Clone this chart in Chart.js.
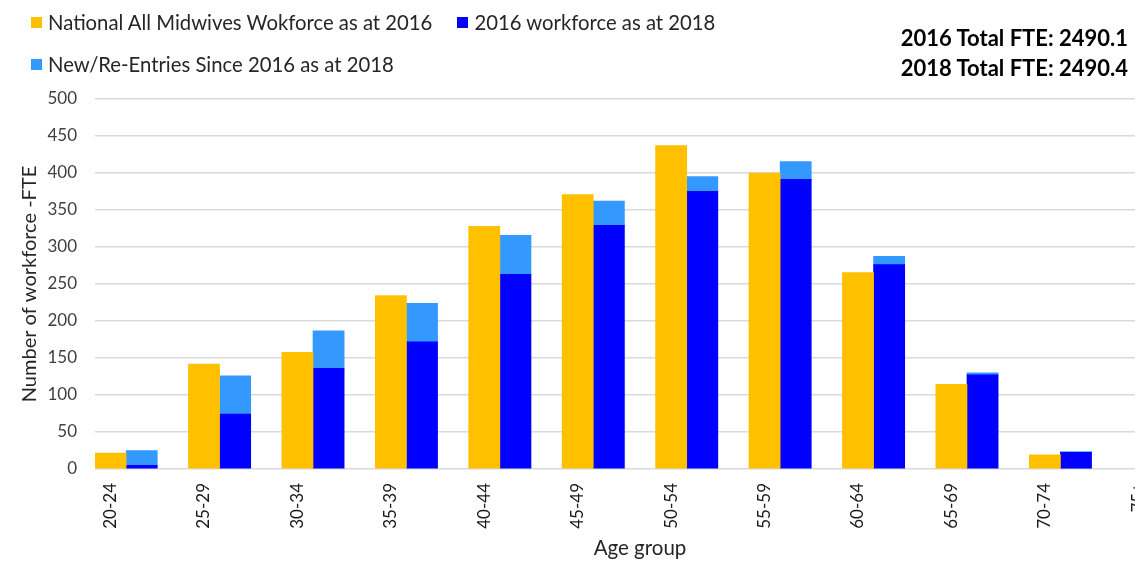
<!DOCTYPE html>
<html>
<head>
<meta charset="utf-8">
<title>Midwives workforce by age group</title>
<script src="https://cdn.jsdelivr.net/npm/chart.js@4.4.1/dist/chart.umd.min.js"></script>
<style>
  html, body { margin: 0; padding: 0; overflow: hidden; background: #fff; }
  #wrap { position: relative; width: 1200px; height: 563px; font-family: Lato, sans-serif; }
  canvas { position: absolute; left: 0; top: 0; }
  #legend { position: absolute; left: 31px; top: 10px; width: 790px; display: flex; flex-wrap: wrap; row-gap: 18px; font-size: 20.3px; color: #262626; }
  .item { display: flex; align-items: center; margin-right: 25px; line-height: 24px; white-space: nowrap; }
  .box { width: 11px; height: 11px; margin-right: 6px; }
  #totals { position: absolute; left: 0; top: 23px; width: 1128px; text-align: right; font-weight: bold; font-size: 22px; line-height: 30px; color: #000; }
</style>
</head>
<body>
<div id="wrap">
  <canvas id="chart" width="1200" height="563"></canvas>
  <div id="legend"></div>
  <div id="totals"></div>
</div>
<script>
const ageGroups = ["20-24", "25-29", "30-34", "35-39", "40-44", "45-49", "50-54", "55-59", "60-64", "65-69", "70-74", "75+"];

// FTE by age group
const fte2016 = [21.6, 141.9, 157.6, 234.2, 327.9, 371.0, 437.0, 400.0, 265.3, 114.3, 19.3, null];
const retained2018 = [4.9, 74.3, 136.0, 172.0, 263.0, 329.2, 375.2, 391.4, 276.1, 127.4, 22.5, null];
const newEntries2018 = [20.0, 51.5, 50.6, 52.0, 52.9, 32.7, 19.9, 24.0, 11.4, 2.4, 1.0, null];

const yAxisMax = 500;
const yAxisStep = 50;

const sum = (arr) => arr.reduce((a, b) => a + (b || 0), 0);
// linear x axis so the plot can start at the first bar
const toPoints = (arr) => arr.map((v, i) => ({ x: i, y: v }));

Chart.defaults.font.family = "Lato, sans-serif";

const datasets = [
  // empty slot in front of each pair of bars
  { label: "", data: [], stack: "pad" },
  {
    label: "National All Midwives Wokforce as at 2016",
    data: toPoints(fte2016),
    backgroundColor: "#FFC000",
    stack: "2016",
  },
  {
    label: "2016 workforce as at 2018",
    data: toPoints(retained2018),
    backgroundColor: "#0000FF",
    stack: "2018",
  },
  {
    label: "New/Re-Entries Since 2016 as at 2018",
    data: toPoints(newEntries2018),
    backgroundColor: "#3399FF",
    stack: "2018",
  },
];

// legend
const legendEl = document.getElementById("legend");
datasets.filter((d) => d.label).forEach((d) => {
  const item = document.createElement("div");
  item.className = "item";
  const box = document.createElement("span");
  box.className = "box";
  box.style.background = d.backgroundColor;
  item.appendChild(box);
  item.appendChild(document.createTextNode(d.label));
  legendEl.appendChild(item);
});

document.getElementById("totals").innerHTML =
  "2016 Total FTE: " + sum(fte2016).toFixed(1) + "<br>" +
  "2018 Total FTE: " + (sum(retained2018) + sum(newEntries2018)).toFixed(1);

const chart = new Chart(document.getElementById("chart"), {
  type: "bar",
  data: { datasets: datasets },
  options: {
    responsive: false,
    animation: false,
    layout: { padding: { top: 99, right: 15, bottom: 0, left: 0 } },
    datasets: {
      bar: { categoryPercentage: 1, barPercentage: 1, borderWidth: 0 },
    },
    plugins: {
      legend: { display: false },
      tooltip: { enabled: false },
    },
    scales: {
      x: {
        type: "linear",
        offset: false,
        min: -1 / 6,
        max: 11.5,
        grid: { display: false, drawTicks: false, offset: false },
        border: { display: false },
        ticks: {
          stepSize: 1,
          includeBounds: false,
          autoSkip: false,
          minRotation: 90,
          maxRotation: 90,
          padding: 14,
          color: "#1a1a1a",
          font: { size: 17 },
          callback: (v) => ageGroups[v] ?? "",
        },
        title: {
          display: true,
          text: "Age group",
          color: "#262626",
          font: { size: 20.5 },
          padding: { top: 0, bottom: 2 },
        },
        afterFit: (axis) => { axis.height = 94; },
      },
      y: {
        min: 0,
        max: yAxisMax,
        stacked: true,
        grid: { color: "#d9d9d9", lineWidth: 1.5, drawTicks: false },
        border: { display: false },
        ticks: {
          stepSize: yAxisStep,
          padding: 18,
          color: "#404040",
          font: { size: 17 },
        },
        title: {
          display: true,
          text: "Number of workforce -FTE",
          color: "#262626",
          font: { size: 20 },
          padding: { top: 18, bottom: 0 },
        },
        afterFit: (axis) => { axis.width = 95; },
      },
    },
  },
});
</script>
</body>
</html>
